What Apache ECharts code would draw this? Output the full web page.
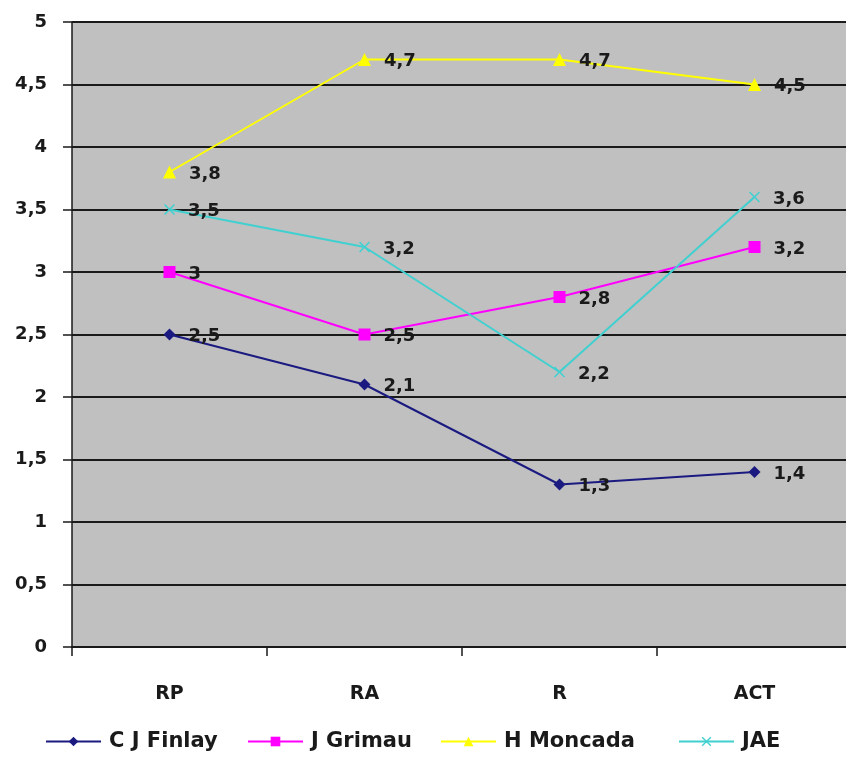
<!DOCTYPE html>
<html>
<head>
<meta charset="utf-8">
<script src="https://cdn.jsdelivr.net/npm/echarts@6/dist/echarts.min.js"></script>
<style>
  html, body { margin: 0; padding: 0; background: #fff; overflow: hidden; }
  #main { width: 852px; height: 760px; }
</style>
</head>
<body>
<div id="main"></div>
<script>
var categories = ['RP', 'RA', 'R', 'ACT'];
var finlay = [2.5, 2.1, 1.3, 1.4];
var grimau = [3, 2.5, 2.8, 3.2];
var moncada = [3.8, 4.7, 4.7, 4.5];
var jae = [3.5, 3.2, 2.2, 3.6];
var seriesNames = ['C J Finlay', 'J Grimau', 'H Moncada', 'JAE'];
var yTicks = [0, 0.5, 1, 1.5, 2, 2.5, 3, 3.5, 4, 4.5, 5];

var font = 'DejaVu Sans';
var ink = '#1a1a1a';
var crossPath = 'path://M0.2,0 L1,0.8 L1.8,0 L2,0.2 L1.2,1 L2,1.8 L1.8,2 L1,1.2 L0.2,2 L0,1.8 L0.8,1 L0,0.2 Z';

function comma(v) {
    return String(v).replace('.', ',');
}

function makeSeries(name, data, color, symbol, size) {
    return {
        name: name,
        type: 'line',
        data: data,
        symbol: symbol,
        symbolSize: size,
        lineStyle: { color: color, width: 2 },
        itemStyle: { color: color },
        label: {
            show: true,
            position: 'right',
            distance: 13,
            offset: [0, 2],
            formatter: function (p) { return comma(p.value); },
            fontFamily: font,
            fontWeight: 'bold',
            fontSize: 18,
            color: ink
        }
    };
}

// one legend per entry so each sits where the reference puts it
var legendLefts = [45, 247, 440, 678];
var legends = seriesNames.map(function (name, i) {
    return {
        data: [name],
        left: legendLefts[i],
        top: 731,
        padding: 0,
        itemWidth: 55,
        itemHeight: 12,
        textStyle: { fontFamily: font, fontWeight: 'bold', fontSize: 21, color: ink, padding: [0, 0, 0, 3] }
    };
});

var chart = echarts.init(document.getElementById('main'));
chart.setOption({
    animation: false,
    backgroundColor: '#fff',
    grid: { left: 72, right: 0, top: 22, bottom: 113, show: true, backgroundColor: '#c0c0c0', borderWidth: 0 },
    legend: legends,
    xAxis: {
        type: 'category',
        data: categories,
        boundaryGap: true,
        axisLine: { lineStyle: { color: ink, width: 2 } },
        axisTick: { show: true, length: 9, lineStyle: { color: ink, width: 1.5 } },
        axisLabel: { margin: 38, fontFamily: font, fontWeight: 'bold', fontSize: 19, color: ink }
    },
    yAxis: {
        type: 'value',
        min: 0,
        max: 5,
        interval: 0.5,
        axisLine: { show: true, lineStyle: { color: ink, width: 1.5 } },
        axisTick: { show: true, length: 9, lineStyle: { color: ink, width: 1.5 } },
        splitLine: { lineStyle: { color: ink, width: 2 } },
        axisLabel: {
            margin: 25,
            fontFamily: font,
            fontWeight: 'bold',
            fontSize: 18,
            color: ink,
            formatter: function (v) { return yTicks.indexOf(v) >= 0 ? comma(v) : ''; }
        }
    },
    series: [
        makeSeries(seriesNames[0], finlay, '#1a1a80', 'diamond', 12),
        makeSeries(seriesNames[1], grimau, '#ff00ff', 'rect', 12),
        makeSeries(seriesNames[2], moncada, '#ffff00', 'triangle', 13),
        makeSeries(seriesNames[3], jae, '#40d0d0', crossPath, 11)
    ]
});
</script>
</body>
</html>
